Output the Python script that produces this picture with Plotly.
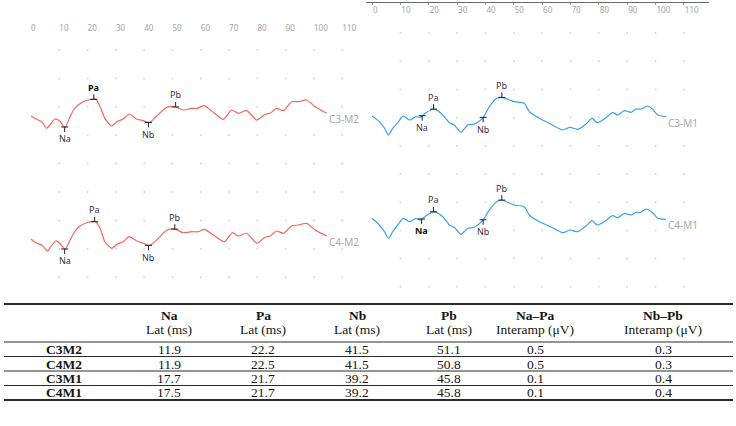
import numpy as np
import plotly.graph_objects as go

W, H = 736, 426
PX_PER_UV = 56.6  # vertical scale of the waveforms (px per microvolt)

# ---------------- data ----------------
t_c3m2 = [0, 2, 3.8, 5.5, 6.7, 8.5, 10, 12, 13.8, 15, 16.7, 19, 22.8, 24.4, 26.1, 28.5, 30.3, 32.6, 34.7,
          37.3, 39.7, 41.8, 44.4, 48, 50.9, 53.8, 56.8, 58.5, 61.1, 64.4, 68, 70.9, 73.3, 76.2, 79.8, 82.7,
          84.5, 86.8, 89.2, 92.1, 94.5, 97.4, 100.4, 104.5]
v_c3m2 = [0, -0.058, -0.10, -0.217, -0.159, -0.053, -0.083, -0.20, -0.012, 0.106, 0.194, 0.265, 0.30, 0.164,
          -0.041, -0.177, -0.10, -0.053, 0.035, -0.053, -0.083, -0.118, 0, 0.154, 0.164, 0.106, 0.136, 0.131,
          0.182, 0.065, -0.058, 0.106, 0.048, 0.094, -0.071, 0.03, 0.048, 0.136, 0.094, 0.253, 0.253, 0.283,
          0.164, 0.048]

t_c4m2 = [0, 2, 3.8, 5.8, 7, 8.8, 10.2, 12, 13.8, 15.2, 17, 19.7, 22.8, 24.4, 26.1, 28.5, 30.5, 32.6, 34.7,
          37.3, 39.7, 41.8, 44.4, 48, 50.7, 53.8, 56.8, 59.1, 61.2, 64.4, 68.3, 71.2, 73.3, 76.2, 79.8, 82.7,
          84.5, 86.8, 89.2, 92.1, 94.5, 97.4, 100.4, 104.5]
v_c4m2 = [0, -0.076, -0.106, -0.212, -0.136, -0.035, -0.076, -0.182, -0.018, 0.111, 0.217, 0.288, 0.306,
          0.189, -0.048, -0.164, -0.088, -0.048, 0.041, -0.035, -0.076, -0.118, -0.018, 0.159, 0.177, 0.111,
          0.129, 0.129, 0.171, 0.071, -0.048, 0.111, 0.053, 0.101, -0.076, 0.030, 0.053, 0.141, 0.101, 0.230,
          0.247, 0.277, 0.159, 0.053]

t_c3m1 = [0, 2.6, 4.4, 5.8, 7.3, 9.1, 11, 13.2, 15.5, 17.0, 19, 21.8, 23.7, 25.5, 27.3, 29, 31.4, 33.8, 36.1,
          39.0, 41.4, 44, 45.7, 47.9, 50.2, 53.7, 55.5, 59, 62.5, 67.3, 69.8, 72.6, 75.5, 77.6, 79.4, 81.9,
          84.9, 86.7, 89, 91.4, 93.1, 94.9, 97.2, 99, 100.8, 103.7]
v_c3m1 = [0, -0.10, -0.217, -0.336, -0.217, -0.118, 0, -0.071, -0.012, -0.023, 0.058, 0.124, 0.076, -0.012,
          -0.118, -0.159, -0.288, -0.159, -0.141, -0.041, 0.164, 0.313, 0.330, 0.295, 0.253, 0.224, 0.076,
          -0.041, -0.129, -0.247, -0.20, -0.235, -0.141, -0.041, -0.118, -0.053, 0.058, 0.018, 0.094, 0.065,
          0.124, 0.124, 0.177, 0.118, 0.018, -0.012]

t_c4m1 = [0, 2.6, 4.4, 5.8, 7.3, 9.1, 11, 13.2, 15.5, 17.0, 19, 21.8, 23.7, 25.5, 27.3, 29, 31.4, 33.8, 36.1,
          39.0, 41.4, 44, 45.7, 47.9, 50.2, 53.7, 55.5, 59, 62.5, 67.3, 69.8, 72.6, 75.5, 77.6, 79.4, 81.9,
          84.9, 86.7, 89, 91.4, 93.1, 94.9, 96.6, 99, 100.8, 103.7]
v_c4m1 = [0, -0.118, -0.237, -0.353, -0.237, -0.118, 0, -0.06, 0, -0.03, 0.041, 0.117, 0.076, 0, -0.118,
          -0.159, -0.283, -0.177, -0.159, -0.042, 0.147, 0.293, 0.323, 0.283, 0.235, 0.205, 0.058, -0.06,
          -0.136, -0.254, -0.207, -0.237, -0.136, -0.042, -0.118, -0.06, 0.046, 0.011, 0.088, 0.058, 0.106,
          0.106, 0.164, 0.099, 0, -0.018]

trace_names = ["C3-M2", "C4-M2", "C3-M1", "C4-M1"]
channels = ["C3M2", "C4M2", "C3M1", "C4M1"]
lat_na = [11.9, 11.9, 17.7, 17.5]
lat_pa = [22.2, 22.5, 21.7, 21.7]
lat_nb = [41.5, 41.5, 39.2, 39.2]
lat_pb = [51.1, 50.8, 45.8, 45.8]
amp_napa = [0.5, 0.5, 0.1, 0.1]
amp_nbpb = [0.3, 0.3, 0.4, 0.4]
peak_names = ["Na", "Pa", "Nb", "Pb"]
bold_peaks = [["Pa"], [], [], ["Na"]]

tick_vals = [0, 10, 20, 30, 40, 50, 60, 70, 80, 90, 100, 110]

header_top = ["", "Na", "Pa", "Nb", "Pb", "Na\u2013Pa", "Nb\u2013Pb"]
header_sub = ["", "Lat (ms)", "Lat (ms)", "Lat (ms)", "Lat (ms)", "Interamp (\u03bcV)", "Interamp (\u03bcV)"]

# ---------------- layout helpers ----------------
def fy(p):
    return 1 - p / H

def fx(p):
    return p / W

panels = [
    dict(x0=31, sx=2.83, d0=0, d1=366, grid_top=50, grid_step=28.4, grid_n=9, color="#f2665c"),
    dict(x0=372, sx=2.835, d0=366, d1=709, grid_top=33, grid_step=28.2, grid_n=10, color="#3d9fec"),
]
# trace -> (panel index, baseline pixel of first sample)
trace_place = [(0, 116), (0, 239), (1, 116), (1, 218.3)]
series_t = [t_c3m2, t_c4m2, t_c3m1, t_c4m1]
series_v = [v_c3m2, v_c4m2, v_c3m1, v_c4m1]

fig = go.Figure()
layout = dict(
    width=W, height=H, margin=dict(l=0, r=0, t=0, b=0),
    paper_bgcolor="white", plot_bgcolor="rgba(0,0,0,0)", showlegend=False,
)

TICKFONT = dict(family="Noto Sans", size=8, color="#a3a3a3")

# x axes
for i, p in enumerate(panels):
    key = "xaxis" if i == 0 else "xaxis2"
    rng = [(p["d0"] - p["x0"]) / p["sx"], (p["d1"] - p["x0"]) / p["sx"]]
    ax = dict(domain=[fx(p["d0"]), fx(p["d1"])], range=rng, anchor="free",
              tickmode="array", tickvals=tick_vals, ticktext=[str(v) for v in tick_vals],
              ticklabelposition="outside right", tickfont=TICKFONT, side="bottom",
              showgrid=False, zeroline=False, fixedrange=True)
    if i == 0:
        ax.update(position=fy(22), showline=False, ticks="")
    else:
        ax.update(position=fy(2), showline=True, linecolor="#6a6a6a", linewidth=1,
                  ticks="outside", ticklen=2, tickcolor="#9a9a9a")
    layout[key] = ax

# grid y axes (pixel units)
for i in range(2):
    key = "yaxis" if i == 0 else "yaxis2"
    layout[key] = dict(domain=[0, 1], range=[H, 0], visible=False, anchor="x" if i == 0 else "x2",
                       fixedrange=True)
# trace y axes (microvolts)
for k, (pi, base) in enumerate(trace_place):
    key = "yaxis%d" % (k + 3)
    layout[key] = dict(domain=[0, 1], range=[(base - H) / PX_PER_UV, base / PX_PER_UV], visible=False,
                       anchor="x" if pi == 0 else "x2", fixedrange=True)

# grid dots
for i, p in enumerate(panels):
    rows = p["grid_top"] + p["grid_step"] * np.arange(p["grid_n"])
    cols = np.array(tick_vals[1:], dtype=float)
    gx, gy = np.meshgrid(cols, rows)
    fig.add_trace(go.Scatter(x=gx.ravel(), y=gy.ravel(), mode="markers",
                             marker=dict(size=2, color="#d9d9d9"),
                             xaxis="x" if i == 0 else "x2", yaxis="y" if i == 0 else "y2",
                             hoverinfo="skip"))

annotations = []
HTICK = 5 / PX_PER_UV
for k in range(4):
    pi, base = trace_place[k]
    p = panels[pi]
    xa = "x" if pi == 0 else "x2"
    ya = "y%d" % (k + 3)
    t = np.array(series_t[k], dtype=float)
    v = np.array(series_v[k], dtype=float)
    fig.add_trace(go.Scatter(x=t, y=v, mode="lines", line=dict(color=p["color"], width=1.2, shape="spline",
                                                                 smoothing=0.6),
                             xaxis=xa, yaxis=ya, hoverinfo="skip"))
    # peak markers
    lats = [lat_na[k], lat_pa[k], lat_nb[k], lat_pb[k]]
    lx, ly = [], []
    for name, L in zip(peak_names, lats):
        yv = float(np.interp(L, t, v))
        sgn = -1 if name.startswith("N") else 1
        lx += [L, L, None]
        ly += [yv, yv + sgn * HTICK, None]
        bold = name in bold_peaks[k]
        annotations.append(dict(x=L, y=yv, xref=xa, yref=ya, text=("<b>%s</b>" % name) if bold else name,
                                 showarrow=False, yshift=sgn * 12, xanchor="center", yanchor="middle",
                                 font=dict(family="Noto Sans", size=9,
                                           color="#111111" if bold else "#3b2f45")))
    fig.add_trace(go.Scatter(x=lx, y=ly, mode="lines", line=dict(color="#222222", width=1),
                             xaxis=xa, yaxis=ya, hoverinfo="skip"))
    fig.add_trace(go.Scatter(x=lats, y=[float(np.interp(L, t, v)) for L in lats], mode="markers",
                             marker=dict(symbol="line-ew", size=5, line=dict(width=1, color="#222222")),
                             xaxis=xa, yaxis=ya, hoverinfo="skip"))
    # channel label at end of trace
    annotations.append(dict(x=t[-1], y=v[-1], xref=xa, yref=ya, text=trace_names[k], showarrow=False,
                             xanchor="left", yanchor="middle", yshift=-6, xshift=0,
                             font=dict(family="Noto Sans", size=10, color="#a9a9a9")))

# ---------------- table ----------------
col_x = [64, 169, 263, 357, 449, 535, 663]
TFONT = dict(family="Liberation Serif", size=13.5, color="#141414")
y_head1, y_head2 = 315, 329
row_y = [349.5, 364, 378.5, 392.5]

def tab_text(cx, cy, text):
    return dict(x=fx(cx), y=fy(cy), xref="paper", yref="paper", showarrow=False, text=text,
                xanchor="center", yanchor="middle", borderpad=0, font=TFONT)

for j, cx in enumerate(col_x):
    if header_top[j]:
        annotations.append(tab_text(cx, y_head1, "<b>%s</b>" % header_top[j]))
    if header_sub[j]:
        annotations.append(tab_text(cx, y_head2, header_sub[j]))
columns = [lat_na, lat_pa, lat_nb, lat_pb, amp_napa, amp_nbpb]
for r, ch in enumerate(channels):
    annotations.append(tab_text(col_x[0], row_y[r], "<b>%s</b>" % ch))
    for j, col in enumerate(columns):
        annotations.append(tab_text(col_x[j + 1], row_y[r], "%.1f" % col[r]))

shapes = []
rule_y = [(304, 1.8), (342, 1), (356.5, 1), (371, 1), (385.5, 1), (400, 1.8)]
for yy, wdt in rule_y:
    shapes.append(dict(type="line", xref="paper", yref="paper", x0=fx(4), x1=fx(733), y0=fy(yy), y1=fy(yy),
                       line=dict(color="#2a2a2a", width=wdt)))

layout["annotations"] = annotations
layout["shapes"] = shapes
fig.update_layout(**layout)
fig.write_html("out.html")
